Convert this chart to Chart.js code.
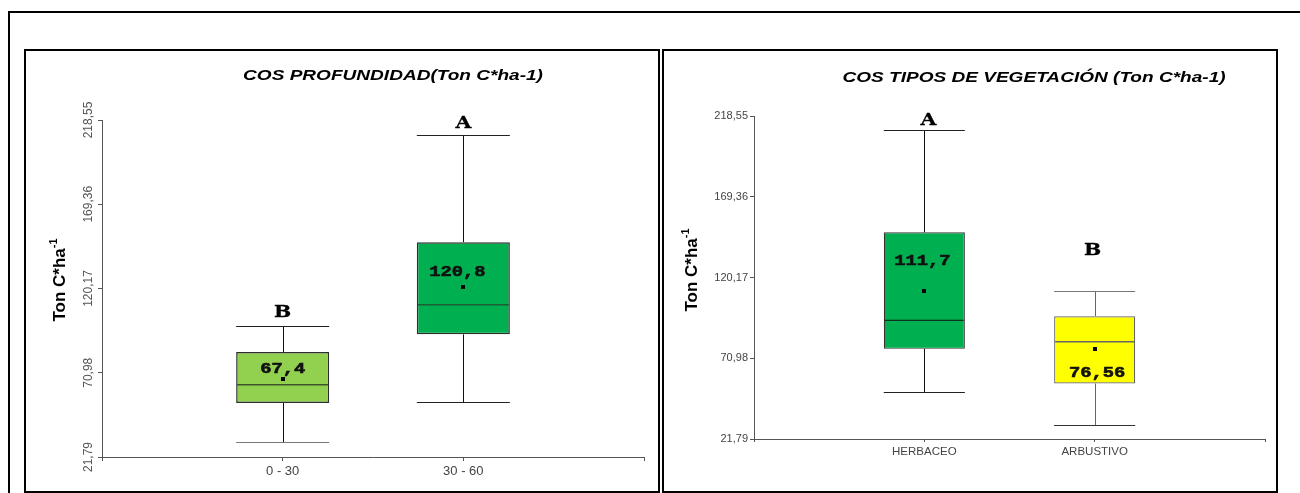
<!DOCTYPE html>
<html lang="es">
<head>
<meta charset="utf-8">
<title>COS – Ton C*ha-1</title>
<script src="https://cdn.jsdelivr.net/npm/chart.js@4.4.1/dist/chart.umd.min.js"></script>
<style>
  html, body { margin: 0; padding: 0; background: #fff; }
  body { width: 1300px; height: 493px; position: relative; overflow: hidden; }
  .frame { position: absolute; left: 8px; top: 11px; width: 1400px; height: 600px;
           border-left: 2px solid #000; border-top: 2px solid #000; }
  .panel { position: absolute; top: 49px; height: 444px; box-sizing: border-box; border: 2px solid #000; }
  #p1 { left: 24px; width: 636px; }
  #p2 { left: 662px; width: 616px; }
  canvas { position: absolute; }
  #c1 { left: 26px; top: 51px; }
  #c2 { left: 664px; top: 51px; }
</style>
</head>
<body>
<div class="frame"></div>
<div class="panel" id="p1"></div>
<div class="panel" id="p2"></div>
<canvas id="c1" width="632" height="440"></canvas>
<canvas id="c2" width="612" height="440"></canvas>
<script>
// Shared value axis (Ton C*ha-1)
const yTickValues = [21.79, 70.98, 120.17, 169.36, 218.55];

// Soil organic carbon by depth (cm)
const depthCategories = ['0 - 30', '30 - 60'];
const depthMin    = [30.4, 53.7];
const depthQ1     = [53.3, 93.4];
const depthMedian = [64.0, 110.7];
const depthQ3     = [83.1, 147.2];
const depthMax    = [98.3, 209.8];
const depthMean   = [67.4, 120.8];
const depthGroups = ['B', 'A'];

// Soil organic carbon by vegetation type
const vegCategories = ['HERBACEO', 'ARBUSTIVO'];
const vegMin    = [50.7, 30.5];
const vegQ1     = [76.7, 55.6];
const vegMedian = [94.1, 81.1];
const vegQ3     = [147.7, 96.6];
const vegMax    = [210.3, 112.2];
const vegMean   = [111.7, 76.56];
const vegGroups = ['A', 'B'];

const tickText = v => v.toFixed(2).replace('.', ',');
const meanText = v => String(v).replace('.', ',');

// text drawn with a horizontal stretch (wide lettering), optionally thickened
function wideText(ctx, text, x, y, sx, thicken) {
  ctx.save();
  ctx.translate(x, y);
  ctx.scale(sx, 1);
  ctx.fillText(text, 0, 0);
  if (thicken) {
    ctx.strokeStyle = ctx.fillStyle;
    ctx.lineWidth = thicken;
    ctx.strokeText(text, 0, 0);
  }
  ctx.restore();
}

// Whiskers, medians, means, group letters and the panel texts
const boxPlugin = {
  id: 'boxplot',
  afterDatasetsDraw(chart, args, o) {
    const ctx = chart.ctx, y = chart.scales.y, s = o.stats;
    const py = v => y.getPixelForValue(v);
    const crisp = p => Math.round(p) + 0.5;
    const line = (x1, y1, x2, y2, color, w) => {
      ctx.save();
      ctx.strokeStyle = color; ctx.lineWidth = w;
      ctx.beginPath(); ctx.moveTo(x1, y1); ctx.lineTo(x2, y2); ctx.stroke();
      ctx.restore();
    };
    chart.getDatasetMeta(0).data.forEach((bar, i) => {
      const cx = crisp(bar.x), l = bar.x - bar.width / 2, r = bar.x + bar.width / 2;
      const yMax = crisp(py(s.max[i])), yMin = crisp(py(s.min[i]));
      line(cx, py(s.q3[i]), cx, yMax, o.whisker[i], 1);
      line(cx, py(s.q1[i]), cx, yMin, o.whisker[i], 1);
      line(l, yMax, r, yMax, o.capTop[i], 1);
      line(l, yMin, r, yMin, o.capBottom[i], 1);
      const yMed = py(s.median[i]);
      line(l + 1, yMed, r - 1, yMed, o.median[i], o.medianWidth[i]);
      const yMean = py(s.mean[i]);
      ctx.save();
      ctx.fillStyle = '#000';
      ctx.fillRect(Math.round(bar.x) - 2, Math.round(yMean) - 2, 4, 4);
      ctx.textAlign = 'center'; ctx.textBaseline = 'middle';
      ctx.fillStyle = '#111';
      ctx.font = 'bold 15px "Liberation Mono", "DejaVu Sans Mono", monospace';
      wideText(ctx, meanText(s.mean[i]), bar.x + o.meanShift[i][0], yMean + o.meanShift[i][1], 1.25, 0.6);
      ctx.fillStyle = '#000';
      ctx.font = 'bold 17px "DejaVu Serif", serif';
      wideText(ctx, s.groups[i], bar.x + o.groupShift[i][0], py(s.max[i]) + o.groupShift[i][1], 1.2, 0.3);
      ctx.restore();
    });
  },
  afterDraw(chart, args, o) {
    const ctx = chart.ctx, area = chart.chartArea, y = chart.scales.y;
    ctx.save();
    // panel title
    ctx.fillStyle = '#000';
    ctx.textAlign = 'center'; ctx.textBaseline = 'middle';
    ctx.font = 'italic bold 15px "Liberation Sans", Arial, sans-serif';
    wideText(ctx, o.title, o.titlePos[0], o.titlePos[1], 1.27);
    // value-axis title with superscript
    ctx.translate(o.yTitlePos[0], o.yTitlePos[1]);
    ctx.rotate(-Math.PI / 2);
    const mainFont = 'bold 17px "Liberation Sans", Arial, sans-serif';
    const supFont = 'bold 11px "Liberation Sans", Arial, sans-serif';
    ctx.font = mainFont; const w1 = ctx.measureText('Ton C*ha').width;
    ctx.font = supFont; const w2 = ctx.measureText('-1').width;
    ctx.textAlign = 'left';
    ctx.font = mainFont; ctx.fillText('Ton C*ha', -(w1 + w2) / 2, 0);
    ctx.font = supFont; ctx.fillText('-1', -(w1 + w2) / 2 + w1, -6);
    ctx.restore();
    // upright value labels drawn along the axis
    if (o.rotatedTicks) {
      ctx.save();
      ctx.fillStyle = '#555';
      ctx.font = '12px "Liberation Sans", Arial, sans-serif';
      ctx.textAlign = 'center'; ctx.textBaseline = 'middle';
      y.ticks.forEach(t => {
        ctx.save();
        ctx.translate(area.left - o.rotatedTickGap, y.getPixelForValue(t.value));
        ctx.rotate(-Math.PI / 2);
        ctx.fillText(tickText(t.value), 0, 0);
        ctx.restore();
      });
      ctx.restore();
    }
  }
};

function boxChart(canvasId, s, look) {
  const n = s.categories.length;
  return new Chart(document.getElementById(canvasId), {
    type: 'bar',
    data: {
      datasets: [{
        data: s.q1.map((q, i) => ({ x: i + 1, y: [q, s.q3[i]] })),
        backgroundColor: look.fill,
        borderColor: look.edge,
        borderWidth: look.edgeWidth,
        borderSkipped: false,
        barPercentage: look.barPct,
        categoryPercentage: 1
      }]
    },
    options: {
      responsive: false,
      animation: false,
      events: [],
      layout: { padding: look.padding },
      plugins: {
        legend: { display: false },
        tooltip: { enabled: false },
        boxplot: Object.assign({ stats: s }, look.marks)
      },
      scales: {
        x: {
          type: 'linear', min: 0, max: n + 1, offset: false,
          afterBuildTicks: sc => { sc.ticks = Array.from({ length: n + 2 }, (_, v) => ({ value: v })); },
          afterFit: sc => { sc.height = 30; },
          grid: { offset: false, drawOnChartArea: false, drawTicks: true, tickLength: look.xTickLen, color: '#555' },
          border: { color: '#555', width: 1 },
          ticks: {
            autoSkip: false, maxRotation: 0, padding: look.xTickPad,
            color: '#444', font: { family: '"Liberation Sans", Arial, sans-serif', size: look.xFont },
            callback: v => s.categories[v - 1] || ''
          }
        },
        y: {
          min: yTickValues[0], max: yTickValues[yTickValues.length - 1],
          afterBuildTicks: sc => { sc.ticks = yTickValues.map(v => ({ value: v })); },
          afterFit: sc => { sc.width = look.yWidth; },
          grid: { drawOnChartArea: false, drawTicks: true, tickLength: 4, color: '#555' },
          border: { color: '#555', width: 1 },
          ticks: {
            display: !look.marks.rotatedTicks, padding: 2,
            color: '#444', font: { family: '"Liberation Sans", Arial, sans-serif', size: 11 },
            callback: v => tickText(v)
          }
        }
      }
    },
    plugins: [boxPlugin]
  });
}

boxChart('c1', {
  categories: depthCategories, min: depthMin, q1: depthQ1, median: depthMedian,
  q3: depthQ3, max: depthMax, mean: depthMean, groups: depthGroups
}, {
  fill: ['#92d050', '#00b050'],
  edge: ['#2e2e2e', '#2e2e2e'],
  edgeWidth: 1.5,
  barPct: 0.515,
  padding: { left: 66, right: 14, top: 69, bottom: 4 },
  yWidth: 10,
  xTickLen: 4, xTickPad: 3, xFont: 13,
  marks: {
    title: 'COS PROFUNDIDAD(Ton C*ha-1)', titlePos: [367, 25],
    yTitlePos: [34, 229],
    rotatedTicks: true, rotatedTickGap: 13,
    whisker: ['#111', '#111'], capTop: ['#222', '#222'], capBottom: ['#777', '#222'],
    median: ['#3b5528', '#1d5e35'], medianWidth: [1.5, 1.5],
    meanShift: [[0, -10], [-6, -15]],
    groupShift: [[0, -13], [0, -11]]
  }
});

boxChart('c2', {
  categories: vegCategories, min: vegMin, q1: vegQ1, median: vegMedian,
  q3: vegQ3, max: vegMax, mean: vegMean, groups: vegGroups
}, {
  fill: ['#00b050', '#ffff00'],
  edge: ['#333', '#666'],
  edgeWidth: 1.2,
  barPct: 0.476,
  padding: { left: 50, right: 11, top: 65, bottom: 22 },
  yWidth: 40,
  xTickLen: 3, xTickPad: 3, xFont: 11.5,
  marks: {
    title: 'COS TIPOS DE VEGETACIÓN (Ton C*ha-1)', titlePos: [370, 27],
    yTitlePos: [28, 219],
    rotatedTicks: false,
    whisker: ['#111', '#666'], capTop: ['#222', '#777'], capBottom: ['#222', '#333'],
    median: ['#111', '#666'], medianWidth: [1, 1.5],
    meanShift: [[-2, -30], [2.5, 24]],
    groupShift: [[4, -9], [-2, -40]]
  }
});
</script>
</body>
</html>
